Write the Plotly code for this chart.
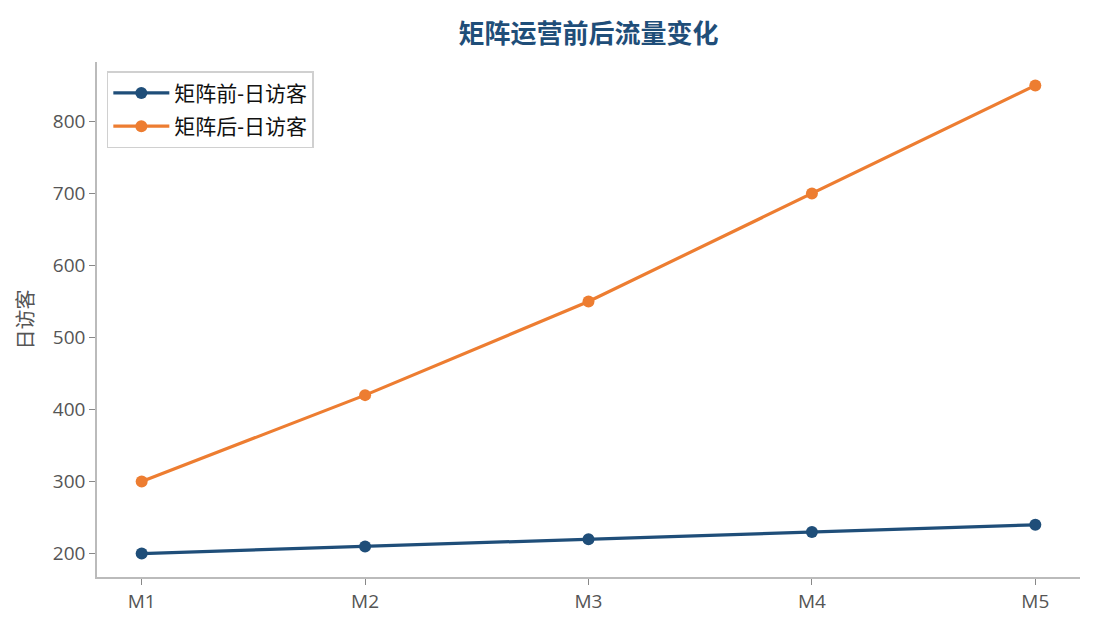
import plotly.graph_objects as go

months = ["M1", "M2", "M3", "M4", "M5"]
before_visitors = [200, 210, 220, 230, 240]
after_visitors = [300, 420, 550, 700, 850]

font_family = "Open Sans, Noto Sans CJK SC, sans-serif"

fig = go.Figure()
fig.add_trace(go.Scatter(x=months, y=before_visitors, mode="lines+markers", name="矩阵前-日访客",
                         legendgroup="a",
                         line=dict(color="#1f4e79", width=3.2), marker=dict(size=12, color="#1f4e79")))
fig.add_trace(go.Scatter(x=months, y=after_visitors, mode="lines+markers", name="矩阵后-日访客",
                         legendgroup="b",
                         line=dict(color="#ed7d31", width=3.2), marker=dict(size=12, color="#ed7d31")))

# the page body adds 8px, so the figure is a bit smaller than the window
fig.update_layout(
    width=1087, height=622,
    margin=dict(l=89, r=15, t=54, b=53, autoexpand=False),
    plot_bgcolor="white", paper_bgcolor="white",
    font=dict(family=font_family, size=19, color="#555555"),
    title=dict(text="<b>矩阵运营前后流量变化</b>", xref="paper", x=0.5, xanchor="center",
               yref="container", y=0.958, yanchor="middle",
               font=dict(size=26, color="#1f4e79", family="Noto Sans CJK SC")),
    legend=dict(x=0.01, y=0.982, xanchor="left", yanchor="top", bordercolor="#d0d0d0", borderwidth=1.5,
                bgcolor="white", font=dict(size=21, color="#111111"), tracegroupgap=3,
                itemwidth=56),
    showlegend=True,
)
fig.update_xaxes(range=[-0.2, 4.2], showline=True, linecolor="#bbbbbb", linewidth=1.5, ticks="outside",
                 ticklen=6, tickcolor="#888888", showgrid=False, zeroline=False)
fig.update_yaxes(range=[167.5, 882.5], showline=True, linecolor="#bbbbbb", linewidth=1.5, ticks="outside",
                 ticklen=6, tickcolor="#888888", showgrid=False, zeroline=False, dtick=100,
                 title=dict(text="日访客", standoff=14, font=dict(size=20, family="Noto Sans CJK SC")))

fig.write_html("out.html")
